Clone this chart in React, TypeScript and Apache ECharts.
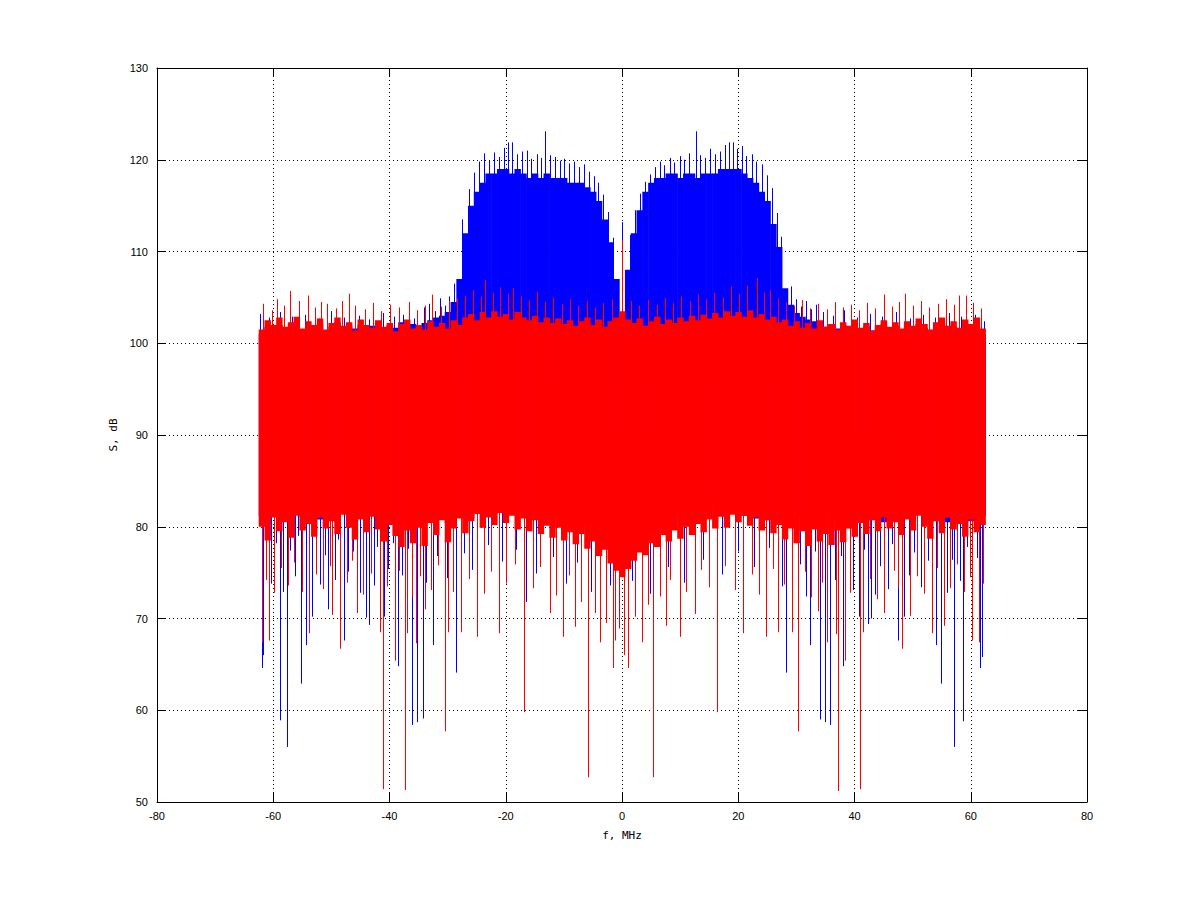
import React, { useEffect, useRef } from "react";
import * as echarts from "echarts";

// Frequency bins (MHz), 1 MHz apart, spanning the measured band
const freqMHz = [
  -62, -61, -60, -59, -58, -57, -56, -55, -54, -53, -52, -51, -50, -49, -48, -47, -46, -45, -44, -43, -42, -41, -40, -39, -38, -37, -36, -35, -34, -33, -32, -31, -30, -29,
  -28, -27, -26, -25, -24, -23, -22, -21, -20, -19, -18, -17, -16, -15, -14, -13, -12, -11, -10, -9, -8, -7, -6, -5, -4, -3, -2, -1, 0,
  1, 2, 3, 4, 5, 6, 7, 8, 9, 10, 11, 12, 13, 14, 15, 16, 17, 18, 19, 20, 21, 22, 23, 24, 25, 26, 27, 28,
  29, 30, 31, 32, 33, 34, 35, 36, 37, 38, 39, 40, 41, 42, 43, 44, 45, 46, 47, 48, 49, 50, 51, 52, 53, 54, 55, 56, 57, 58, 59, 60, 61, 62,
];

// Blue spectrum: dense body upper / lower level per bin (dB)
const blueTop = [
  101, 101.8, 101.5, 102, 101.3, 101.7, 102.2, 101.2, 101.9, 101.5, 102.1, 101.4, 101.8, 102.3, 101.5, 101.9, 101.6, 102, 101.7, 101.9, 102.2, 101.6, 102, 101.7, 102.3, 101.9, 102.1, 101.8, 102.2, 102.5, 102.8, 103, 103.4, 104.5,
  107, 112, 115, 116.5, 117.5, 118.5, 118.5, 119, 119, 118.5, 119, 118.5, 118, 118.5, 118, 118.5, 118, 118, 118, 117.5, 117.5, 117.5, 117, 116.5, 115.5, 113.5, 111, 107, 102,
  108, 112, 114.5, 116.5, 117.5, 118, 118, 118.5, 118.5, 118, 118.5, 118.5, 118, 118.5, 118.5, 118.5, 119, 119, 119, 119, 118.5, 118, 117.5, 116.5, 115.5, 113, 110.5, 106,
  104.2, 103.3, 102.9, 102.6, 102.4, 102, 101.8, 102.1, 101.6, 102, 101.7, 102.2, 101.5, 101.9, 101.4, 101.8, 102.1, 101.6, 101.9, 101.3, 102, 101.5, 102.1, 101.7, 101.2, 101.9, 102.2, 101.5, 101.8, 101.3, 102, 101.6, 102.1, 101,
];
const blueBottom = [
  81.2, 80.6, 81.8, 80.9, 81.5, 80.4, 82, 81.1, 80.7, 81.6, 80.8, 82.1, 81.3, 80.5, 81.9, 81, 80.6, 81.7, 80.9, 82.2, 81.4, 80.7, 81.8, 81.2, 80.5, 81.6, 80.8, 82, 81.3, 80.6, 81.9, 81.1, 80.4, 81.7,
  81, 81.8, 80.9, 82.2, 81.4, 82.5, 81.6, 82.3, 81.5, 82.6, 81.7, 82.1, 81.3, 82.4, 81.5, 81.9, 81.1, 81.6, 80.8, 81.3, 80.5, 80.9, 80.1, 80.4, 79.6, 79.2, 78.8, 78.5, 78.9,
  79.3, 79.7, 80.2, 80.5, 80.9, 81.4, 81.1, 81.7, 81.3, 82, 81.5, 82.2, 81.6, 82.4, 81.8, 82.5, 81.9, 82.3, 81.5, 82.1, 81.2, 81.8, 80.9, 81.6, 80.7, 81.4, 80.8, 81.5,
  80.6, 81.9, 81.2, 80.5, 81.7, 80.9, 82.1, 81.3, 80.6, 81.8, 81, 80.4, 81.6, 80.8, 82, 81.2, 80.5, 81.9, 81.1, 80.7, 81.5, 80.9, 82.2, 81.4, 80.6, 81.8, 81, 80.5, 81.7, 80.8, 81.4, 80.6, 81.9, 81.2,
];

// Red spectrum: dense body upper / lower level per bin (dB)
const redTop = [
  101.5, 102.5, 102, 102.8, 101.8, 102.3, 102.9, 101.6, 102.4, 102, 102.7, 101.5, 102.2, 102.8, 101.9, 102.3, 101.4, 102.6, 102, 101.7, 102.5, 101.8, 102.2, 101.3, 102.1, 102.6, 101.6, 102, 101.5, 102.4, 101.8, 102.2, 101.6, 102.5,
  102, 102.8, 103.2, 102.5, 103.4, 102.8, 103.5, 102.9, 103.2, 102.6, 103.4, 102.8, 102.5, 103, 102.3, 102.8, 102.2, 102.7, 102.1, 102.5, 101.9, 102.4, 102.8, 102, 102.6, 101.8, 102.4, 102.8, 103.5,
  102.6, 102.2, 102.7, 101.9, 102.4, 102.9, 102.1, 102.6, 102.2, 102.8, 102.4, 103, 102.5, 103.1, 102.7, 103.3, 102.8, 103.5, 103, 103.4, 102.9, 103.6, 102.8, 103.2, 102.6, 102.9, 102.3, 102.6,
  101.9, 102.4, 101.7, 102.2, 101.6, 102.5, 101.8, 102.1, 101.5, 102.3, 101.9, 102.6, 101.7, 102.2, 101.4, 102, 102.5, 101.8, 102.3, 101.6, 102.4, 101.9, 102.7, 102.1, 101.5, 102.3, 102.8, 101.9, 102.4, 101.7, 102.6, 102.1, 102.8, 101.6,
];
const redBottom = [
  80, 78.5, 81, 79.5, 80.5, 78.8, 81.2, 79.6, 80.3, 78.9, 81, 79.8, 80.6, 79.2, 81.3, 79.9, 78.6, 80.8, 79.4, 81.1, 79.7, 78.4, 80.2, 79, 77.8, 79.6, 78.2, 79.9, 77.9, 80.4, 79.1, 80.7, 78.3, 79.8,
  80.9, 79.3, 80.6, 81.4, 79.9, 81, 80.2, 81.5, 80.4, 81.2, 79.7, 80.9, 79.5, 80.7, 79.2, 80.1, 78.8, 79.9, 78.5, 79.4, 78.1, 79.2, 77.6, 78.4, 76.8, 77.5, 76, 75.2, 74.5,
  75.4, 76.3, 77.2, 76.9, 78.2, 77.8, 79.1, 78.4, 79.6, 78.7, 80, 79.1, 80.3, 79.4, 80.8, 79.8, 81.1, 79.9, 81.3, 80.5, 81.2, 80.1, 81, 79.6, 80.7, 79.3, 80.2, 78.6,
  79.8, 78.2, 79.5, 77.9, 79.7, 78.4, 79.2, 78, 79.6, 78.3, 79.8, 78.9, 80.4, 79.2, 80.7, 79.5, 81, 79.8, 80.5, 79.1, 80.8, 79.6, 81.2, 80, 78.7, 80.6, 79.3, 81, 79.7, 80.3, 78.9, 80.8, 79.4, 80.2,
];

// Individual peaks above / below the body: [MHz, dB]
const blueUpPeaks = [
  [-62.3, 103.2], [-60.8, 102.8], [-58.9, 103.4], [-56.7, 102.9], [-54.5, 103.1], [-52.2, 102.7], [-50.1, 103.5], [-47.8, 102.8], [-45.3, 103], [-43.5, 102.6],
  [-41.1, 103.3], [-39.2, 102.9], [-37.6, 103.1], [-35.8, 102.7], [-34.1, 103.9], [-33.2, 104.3], [-32.2, 103.5], [-31.3, 104.9], [-30.5, 104.1], [-29.7, 105.1], [-28.9, 106.5],
  [-27.6, 113.5], [-26.3, 116.8], [-25.4, 118.6], [-24.6, 119.8], [-23.8, 120.7], [-22.9, 119.9], [-22.1, 120.8], [-21.2, 120.3], [-20.3, 121.3], [-19.6, 121.9],
  [-18.9, 121.9], [-18.1, 120.6], [-17.2, 120.9], [-16.4, 121], [-15.6, 120.1], [-14.7, 120.6], [-13.9, 120.2], [-13.2, 123.1], [-12.4, 120.5], [-11.6, 120.3],
  [-10.7, 119.9], [-9.9, 120.1], [-9.1, 119.6], [-8.3, 119.8], [-7.4, 119.2], [-6.6, 119.5], [-5.7, 118.7], [-4.9, 118.2], [-4.1, 117.5], [-3.3, 116.2],
  [-2.4, 114.3], [-1.6, 111.5], [0, 113.2], [1.4, 111.8], [2.2, 114.5], [3.1, 116.3], [3.9, 117.6], [4.8, 118.4], [5.6, 119.2], [6.5, 119.8],
  [7.3, 119.4], [8.2, 120.2], [9, 119.7], [9.9, 120.4], [10.7, 120], [11.6, 120.7], [12.8, 123.1], [13.5, 120.5], [14.3, 120.2], [15.2, 121.2],
  [16, 120.6], [16.9, 120.9], [17.8, 121.6], [18.4, 121.9], [19.1, 121.9], [19.8, 121.2], [20.6, 121.5], [21.4, 120.4], [22.3, 120.6], [23.1, 119.8],
  [24, 119.5], [24.9, 118.3], [25.8, 116.9], [26.6, 114.2], [27.4, 111.6],
  [29.1, 106.2], [29.9, 104.8], [30.8, 104], [31.6, 104.6], [32.5, 103.7], [33.4, 104.2], [34.6, 103.4], [36.3, 103], [38.2, 103.6], [40.4, 102.8],
  [42.6, 103.2], [44.8, 102.9], [47.1, 103.4], [49.5, 102.7], [51.8, 103.1], [53.9, 102.8], [56.2, 103.3], [58.4, 102.9], [60.7, 103.1], [62.3, 102.4],
];
const blueDownPeaks = [
  [-62, 64.6], [-61.8, 66], [-58.9, 58.9], [-57.6, 56], [-55.2, 62.9], [-54.3, 67.1], [-53.3, 70.2], [-50.5, 71], [-47.8, 67.6], [-44, 70.1],
  [-43.6, 69.3], [-41, 70.2], [-38.5, 64.8], [-36.1, 58.4], [-35.2, 58.7], [-34.3, 59.1], [-32.6, 67.1], [-28.6, 64.1], [-16.6, 71.8], [5.4, 70.8],
  [28.3, 64.1], [32.3, 67.1], [34, 59], [34.9, 58.7], [35.8, 58.4], [38.1, 64.8], [40.8, 70.2], [42.3, 69.4], [42.9, 70], [47.4, 67.6],
  [48.6, 70.2], [54, 67.1], [54.8, 62.9], [57.2, 56], [58.6, 58.8], [61.6, 64.6], [61.9, 65.8],
  [-61.2, 76.5], [-60.4, 73.8], [-59.6, 78.2], [-58.3, 72.9], [-57.1, 77.4], [-56.2, 74.6], [-55.7, 79], [-53.9, 75.8], [-52.7, 78.1], [-51.9, 73.7],
  [-51.1, 76.9], [-49.4, 74.2], [-48.8, 78.6], [-47.1, 75.1], [-46.2, 77.3], [-45.1, 72.8], [-44.5, 76.4], [-42.7, 73.6], [-42.1, 77.8], [-40.3, 75.4],
  [-39.4, 78.2], [-37.9, 74.7], [-36.8, 77.6], [-33.7, 73.9], [-31.9, 76.8], [-30.1, 74.4], [-27.2, 77.1], [-25.8, 75.3], [-23.1, 78], [-20.6, 76.2],
  [-18.3, 77.5], [-14.8, 74.9], [-11.9, 76.7], [-9.6, 73.8], [-7.7, 76.1], [-5.3, 72.9], [-2.1, 73.6], [1.8, 74.1], [4.9, 72.7], [7.9, 75.6],
  [10.6, 73.9], [13.9, 76.4], [17.2, 74.8], [19.9, 77.3], [22.7, 75.6], [25.3, 77.7], [27.6, 73.5], [30.6, 75.9], [31.7, 72.4], [33.2, 77.3],
  [36.7, 74.2], [37.6, 76.8], [39.7, 73.1], [41.6, 77.5], [43.5, 72.6], [44.4, 75.7], [45.8, 73.2], [46.4, 78.1], [49.3, 74.7], [50.2, 77.2],
  [51.4, 73.4], [52.6, 76.3], [53.1, 79], [55.9, 72.8], [56.8, 76.4], [58.1, 74.1], [59.4, 77.8], [60.2, 72.4], [61.1, 76.6],
];
const redUpPeaks = [
  [-61.7, 104.3], [-60.3, 103.6], [-59.4, 104.8], [-58.2, 104.1], [-57.2, 105.7], [-55.6, 104.6], [-54, 105.2], [-52.8, 103.9], [-51.7, 104.5], [-50.7, 104.3],
  [-49.2, 103.8], [-48.1, 104.6], [-46.9, 105.4], [-45.9, 104.1], [-44.3, 103.7], [-42.8, 104.4], [-41.5, 103.5], [-39.9, 104.2], [-38.4, 103.9], [-36.7, 104.5],
  [-35.2, 103.6], [-33.9, 104.1], [-32.7, 105.3], [-31.2, 104], [-29.8, 104.6], [-28.4, 104.9], [-27, 105.2], [-25.6, 105.8], [-24.3, 105.1], [-23.5, 106.9],
  [-22.2, 105.5], [-21, 106.1], [-19.6, 105.4], [-18.8, 106], [-17.4, 105.1], [-16, 104.7], [-14.6, 105.6], [-13.2, 104.5], [-11.8, 105], [-10.3, 104.3],
  [-8.9, 104.8], [-7.5, 104.1], [-6.1, 104.6], [-4.7, 103.9], [-3.3, 104.4], [-1.8, 104.8], [0, 111.2], [1.6, 104.6], [3, 104.1], [4.5, 104.7],
  [6, 104.2], [7.4, 104.9], [8.8, 104.4], [10.2, 105.1], [11.7, 104.6], [13.1, 105.3], [14.5, 104.8], [15.9, 105.5], [17.3, 105], [18.7, 106.2],
  [20.1, 105.4], [21.5, 106.3], [23.3, 107.1], [24.4, 105.6], [25.5, 105.8], [26.8, 104.9], [28.2, 104.5], [29.6, 104.1], [31, 104.7], [32.4, 103.8],
  [33.8, 104.3], [35.2, 103.7], [36.6, 104.5], [38, 103.9], [39.4, 104.2], [40.8, 103.6], [42.2, 104.4], [43.6, 103.8], [45.1, 105.3], [46.5, 104],
  [47.6, 104.5], [48.7, 105.4], [50.1, 104.1], [51.5, 104.6], [52.9, 103.9], [54.3, 104.3], [55.7, 104.8], [57.1, 104.2], [57.9, 105.2], [59.1, 105.2],
  [60.4, 104.4], [61.8, 103.8],
];
const redDownPeaks = [
  [-62, 67.4], [-60.7, 67.6], [-53.8, 68.4], [-49.9, 70.4], [-48.5, 66.7], [-45.6, 70.6], [-41.7, 68.5], [-41.2, 51.4], [-39, 65.4], [-37.4, 51.3],
  [-37, 68.4], [-35.4, 67.3], [-33.9, 71], [-30.5, 57.7], [-30, 68.5], [-27.7, 68.5], [-25, 68], [-21.2, 68.4], [-16.8, 59.8], [-12.4, 70.6],
  [-10.2, 68], [-8.1, 69.1], [-5.8, 52.7], [-3.8, 67.4], [-1.5, 64.6], [-1.2, 67.6], [0.4, 66], [1.1, 64.6], [3.4, 67.4], [5.4, 52.7],
  [7.6, 69.2], [9.9, 68], [12.5, 70.5], [16.4, 59.8], [20.9, 68.4], [24.7, 68], [26.8, 68.5], [29.2, 68.5], [30.2, 57.7], [33.8, 70.8],
  [35.2, 67.4], [36.8, 68.3], [37.1, 51.2], [38.4, 65.4], [40.9, 51.4], [41.4, 68.5], [45.1, 70.6], [48.1, 66.7], [49.6, 70.3], [53.4, 68.4],
  [55.4, 69.2], [60.3, 67.6], [61.5, 67.4],
  [-61.3, 74.2], [-59.8, 72.8], [-58.6, 75.5], [-57.5, 73.6], [-56.4, 76.1], [-55.1, 72.9], [-52.6, 74.8], [-51.4, 73.2], [-50.2, 75.7], [-47.3, 73.9],
  [-46.4, 76.3], [-44.6, 72.6], [-43.2, 74.9], [-40.4, 73.5], [-38.3, 75.2], [-36.2, 72.4], [-34.7, 74.6], [-32.8, 73.1], [-31.6, 75.8], [-29.1, 72.9],
  [-26.4, 74.3], [-23.8, 72.7], [-22.6, 75.1], [-19.9, 73.8], [-18.4, 75.9], [-15.3, 73.3], [-14.1, 75.6], [-11.3, 72.5], [-9.2, 74.7], [-7, 71.8],
  [-4.6, 70.6], [-2.7, 69.5], [-0.6, 68.9], [2.3, 70.2], [4.4, 71.5], [6.5, 72.4], [8.3, 74.2], [11, 72.9], [13.6, 75.3], [14.9, 73.4],
  [17.8, 75.7], [19.4, 73.1], [22.3, 74.8], [23.6, 72.6], [25.9, 75.4], [27.9, 73.7], [31.4, 75.1], [32.6, 72.3], [34.4, 73.9], [39.3, 72.8],
  [42.7, 74.3], [43.9, 72.1], [46.8, 75.2], [47.4, 73.4], [50.7, 74.6], [51.9, 72.7], [54.2, 75.5], [56.5, 73.3], [57.7, 75.9], [58.8, 72.9],
  [59.9, 74.5], [62.1, 73.8],
];

const xTickValues = [-80, -60, -40, -20, 0, 20, 40, 60, 80];
const yTickValues = [50, 60, 70, 80, 90, 100, 110, 120, 130];

const BLUE = "#0000ff";
const RED = "#ff0000";
const TICK_FONT = "Liberation Sans";
const NAME_FONT = "DejaVu Sans Mono";

function bandSeries(name: string, lo: number[], hi: number[], color: string) {
  return {
    type: "custom",
    name,
    clip: true,
    silent: true,
    data: freqMHz.map((f, i) => [f, lo[i], hi[i]]),
    encode: { x: 0, y: [1, 2] },
    renderItem: (_p: any, api: any) => {
      const f = api.value(0);
      const a = api.coord([f - 0.5, api.value(2)]);
      const b = api.coord([f + 0.5, api.value(1)]);
      return {
        type: "rect",
        shape: { x: a[0], y: a[1], width: b[0] - a[0] + 0.6, height: b[1] - a[1] },
        style: { fill: color },
      };
    },
  };
}

function peakSeries(name: string, pts: number[][], base: number, color: string) {
  return {
    type: "custom",
    name,
    clip: true,
    silent: true,
    data: pts,
    encode: { x: 0, y: 1 },
    renderItem: (_p: any, api: any) => {
      const f = api.value(0);
      const a = api.coord([f, base]);
      const b = api.coord([f, api.value(1)]);
      const x = Math.round(a[0]) + 0.5;
      return {
        type: "line",
        shape: { x1: x, y1: a[1], x2: x, y2: b[1] },
        style: { stroke: color, lineWidth: 1 },
      };
    },
  };
}

export default function App() {
  const ref = useRef<HTMLDivElement>(null);
  useEffect(() => {
    if (!ref.current) return;
    const chart = echarts.init(ref.current, null, { renderer: "svg" });
    const xMin = xTickValues[0];
    const xMax = xTickValues[xTickValues.length - 1];
    const yMin = yTickValues[0];
    const yMax = yTickValues[yTickValues.length - 1];
    const tickStyle = { color: "#000", width: 1 };
    chart.setOption({
      animation: false,
      backgroundColor: "#ffffff",
      grid: { left: 157, top: 68, width: 930, height: 734, containLabel: false, outerBoundsMode: "none" },
      xAxis: [
        {
          type: "value",
          min: xMin,
          max: xMax,
          interval: 20,
          position: "bottom",
          name: "f, MHz",
          nameLocation: "middle",
          nameGap: 28,
          nameTextStyle: { color: "#000", fontSize: 11, fontFamily: NAME_FONT },
          axisLine: { show: true, onZero: false, lineStyle: tickStyle },
          axisTick: { show: true, inside: true, length: 9, lineStyle: tickStyle },
          axisLabel: { color: "#000", fontSize: 11, fontFamily: TICK_FONT, margin: 8 },
          splitLine: { show: true, lineStyle: { color: "#000", width: 1, type: [1, 3] } },
        },
        {
          type: "value",
          min: xMin,
          max: xMax,
          interval: 20,
          position: "top",
          axisLine: { show: true, onZero: false, lineStyle: tickStyle },
          axisTick: { show: true, inside: true, length: 9, lineStyle: tickStyle },
          axisLabel: { show: false },
          splitLine: { show: false },
        },
      ],
      yAxis: [
        {
          type: "value",
          min: yMin,
          max: yMax,
          interval: 10,
          position: "left",
          name: "S, dB",
          nameLocation: "middle",
          nameGap: 35,
          nameTextStyle: { color: "#000", fontSize: 11, fontFamily: NAME_FONT },
          axisLine: { show: true, onZero: false, lineStyle: tickStyle },
          axisTick: { show: true, inside: true, length: 9, lineStyle: tickStyle },
          axisLabel: { color: "#000", fontSize: 11, fontFamily: TICK_FONT, margin: 9 },
          splitLine: { show: true, lineStyle: { color: "#000", width: 1, type: [1, 3] } },
        },
        {
          type: "value",
          min: yMin,
          max: yMax,
          interval: 10,
          position: "right",
          axisLine: { show: true, onZero: false, lineStyle: tickStyle },
          axisTick: { show: true, inside: true, length: 9, lineStyle: tickStyle },
          axisLabel: { show: false },
          splitLine: { show: false },
        },
      ],
      series: [
        bandSeries("blue", blueBottom, blueTop, BLUE),
        peakSeries("blue-up", blueUpPeaks, 96, BLUE),
        peakSeries("blue-down", blueDownPeaks, 90, BLUE),
        bandSeries("red", redBottom, redTop, RED),
        peakSeries("red-up", redUpPeaks, 96, RED),
        peakSeries("red-down", redDownPeaks, 90, RED),
      ],
    });
    return () => chart.dispose();
  }, []);
  return (
    <div
      ref={ref}
      style={{ position: "fixed", left: 0, top: 0, width: 1200, height: 901, background: "#fff" }}
    />
  );
}
